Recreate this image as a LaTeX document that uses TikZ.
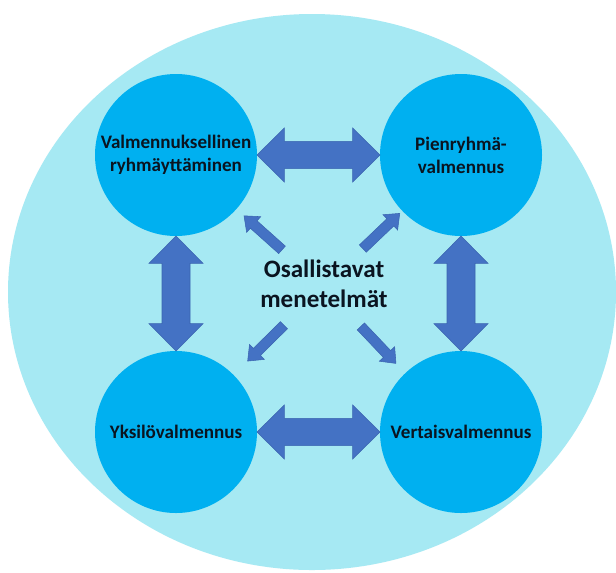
\documentclass[tikz,border=0pt]{standalone}
\usepackage{fontspec}
\setmainfont{Carlito}
\usetikzlibrary{calc}

\definecolor{bgcyan}{HTML}{A6E9F3}
\definecolor{circblue}{HTML}{00B0F0}
\definecolor{arrowblue}{HTML}{4472C4}
\definecolor{arrowedge}{HTML}{3A64B0}
\definecolor{labelink}{HTML}{0A1420}

\tikzset{
  topic/.style={circle, fill=circblue, minimum size=121.5pt, inner sep=0pt,
    outer sep=0pt, align=center, text=labelink,
    font=\bfseries\fontsize{14.3}{17.4}\selectfont},
  hubtext/.style={align=center, text=labelink, inner sep=0pt,
    font=\bfseries\fontsize{18.8}{22.5}\selectfont},
  blockarrow/.style={fill=arrowblue, draw=arrowedge, line width=0.4pt,
    line join=miter},
}

% block arrow with heads at both ends:
% #1 start, #2 end, #3 half shaft width, #4 half head width, #5 head length
\newcommand\pairarrow[5]{%
  \filldraw[blockarrow] (#1)
    -- ($(#1)!#5!(#2)!#4!90:(#2)$)
    -- ($(#1)!#5!(#2)!#3!90:(#2)$)
    -- ($(#2)!#5!(#1)!#3!-90:(#1)$)
    -- ($(#2)!#5!(#1)!#4!-90:(#1)$)
    -- (#2)
    -- ($(#2)!#5!(#1)!#4!90:(#1)$)
    -- ($(#2)!#5!(#1)!#3!90:(#1)$)
    -- ($(#1)!#5!(#2)!#3!-90:(#2)$)
    -- ($(#1)!#5!(#2)!#4!-90:(#2)$)
    -- cycle;}

% block arrow with one head: #1 tail, #2 tip, then as above
\newcommand\pointarrow[5]{%
  \filldraw[blockarrow] ($(#1)!#3!90:(#2)$)
    -- ($(#2)!#5!(#1)!#3!-90:(#1)$)
    -- ($(#2)!#5!(#1)!#4!-90:(#1)$)
    -- (#2)
    -- ($(#2)!#5!(#1)!#4!90:(#1)$)
    -- ($(#2)!#5!(#1)!#3!90:(#1)$)
    -- ($(#1)!#3!-90:(#2)$)
    -- cycle;}

\begin{document}
\begin{tikzpicture}[x=0.75pt, y=-0.75pt]
  \useasboundingbox (0,0) rectangle (616,572);
  \fill[white] (0,0) rectangle (616,572);

  % background field
  \begin{scope}
    \clip (0,0) rectangle (616,572);
    \fill[bgcyan] (312,292) ellipse [x radius=228pt, y radius=208.5pt];
  \end{scope}

  % four coaching forms
  \node[topic] (tl) at (176,155) {Valmennuksellinen\\ryhmäyttäminen};
  \node[topic] (tr) at (461,155) {Pienryhmä-\\valmennus};
  \node[topic] (bl) at (176,432) {Yksilövalmennus};
  \node[topic] (br) at (461,432) {Vertaisvalmennus};

  % centre
  \coordinate (hub) at (323,286.5);
  \node[hubtext] (m) at (324,284) {Osallistavat\\menetelmät};

  % links between neighbouring forms
  \pairarrow{tl.east}{tr.west}{10.25pt}{20.25pt}{20.5pt}
  \pairarrow{bl.east}{br.west}{10.25pt}{20.25pt}{20.5pt}
  \pairarrow{tl.south}{bl.north}{10.5pt}{20.25pt}{20.5pt}
  \pairarrow{tr.south}{br.north}{10.5pt}{20.25pt}{20.5pt}

  % arrows from the centre outwards
  \foreach \c in {tl,tr,bl,br}{
    \coordinate (tail-\c) at ($(hub)!41.25pt!(\c)$);
    \coordinate (tip-\c) at ($(hub)!79.5pt!(\c)$);
    \pointarrow{tail-\c}{tip-\c}{3.75pt}{7.9pt}{9.75pt}
  }
\end{tikzpicture}
\end{document}
